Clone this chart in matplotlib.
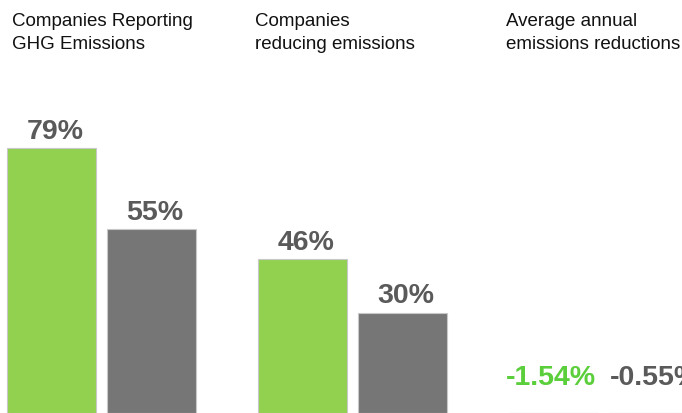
import matplotlib
matplotlib.use("Agg")
import matplotlib.pyplot as plt
import numpy as np

plt.rcParams['font.family'] = ['Liberation Sans', 'DejaVu Sans']

categories = ["Companies Reporting\nGHG Emissions",
              "Companies\nreducing emissions",
              "Average annual\nemissions reductions"]
green_values = [79, 46, -1.54]
gray_values = [55, 30, -0.55]
green_labels = ["79%", "46%", "-1.54%"]
gray_labels = ["55%", "30%", "-0.55%"]

W, H = 682, 413
fig = plt.figure(figsize=(W / 100, H / 100), dpi=100)
ax = fig.add_axes([0, 0, 1, 1])

bar_green = "#92d050"
bar_gray = "#767676"
txt_gray = "#5a5a5a"
txt_green = "#5bcf3b"

x = np.arange(len(categories))
step_px = 251.0
off = 100.0 / step_px / 2
width = 89.0 / step_px

ax.bar(x - off, green_values, width=width, color=bar_green,
       edgecolor="#c8c8c8", linewidth=0.8)
ax.bar(x + off, gray_values, width=width, color=bar_gray,
       edgecolor="#c8c8c8", linewidth=0.8)

left = -101.5 / step_px
ax.set_xlim(left, left + W / step_px)
scale = 3.35
ax.set_ylim(0, H / scale)
ax.axis("off")

def label(xi, v, lab, neg_color, neg_dx):
    if v >= 0:
        ax.annotate(lab, (xi, v), xytext=(2.5, 6.5), textcoords="offset points",
                    ha="center", va="baseline", fontsize=20.5, fontweight="bold",
                    color=txt_gray)
    else:
        ax.annotate(lab, (xi, 0), xytext=(neg_dx, 20.5), textcoords="offset points",
                    ha="center", va="baseline", fontsize=20.5, fontweight="bold",
                    color=neg_color)

for xi, v, lab in zip(x - off, green_values, green_labels):
    label(xi, v, lab, txt_green, -2)
for xi, v, lab in zip(x + off, gray_values, gray_labels):
    label(xi, v, lab, txt_gray, 1)

title_x_px = [12, 255, 506]
for px, title in zip(title_x_px, categories):
    fig.text(px / W, 1 - 13 / H, title, ha="left", va="top",
             fontsize=13.5, color="#111111", linespacing=1.45)

fig.savefig("out.png", dpi=100)
